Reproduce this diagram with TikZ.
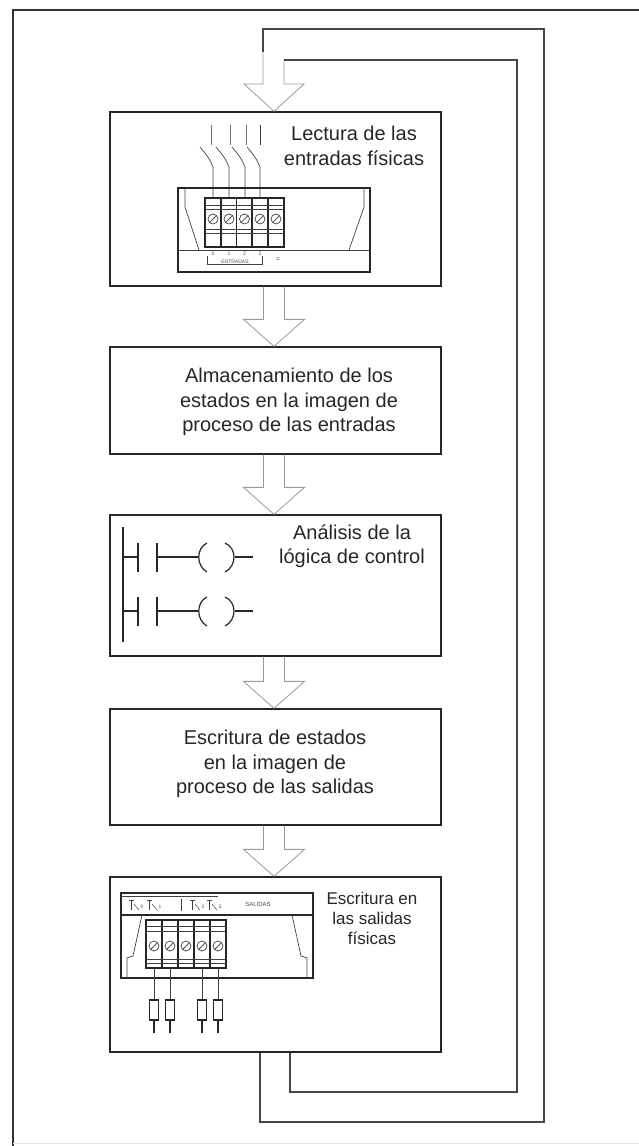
\documentclass[tikz,border=0pt]{standalone}
\usepackage{fontspec}
\setmainfont{Liberation Sans}
\usetikzlibrary{calc}
\begin{document}
\begin{tikzpicture}[x=1pt,y=-1pt,
  stagebox/.style={draw=black!85,line width=1.3pt,minimum width=331pt,inner sep=0pt},
  blockarrow/.style={draw=black!40,line width=0.8pt,line join=miter},
  feedback/.style={draw=black!72,line width=1.5pt},
  caption/.style={font=\fontsize{20}{24.5}\selectfont,align=center,text=black!85,inner sep=0pt},
  smallcaption/.style={font=\fontsize{17}{20}\selectfont,align=center,text=black!85,inner sep=0pt},
  part/.style={draw=black!85,line width=1.2pt},
  thinpart/.style={draw=black!75,line width=0.7pt},
  tinytext/.style={font=\fontsize{5}{5}\selectfont,text=black!70,inner sep=0pt}]

\useasboundingbox (0,0) rectangle (639,1146);

% outer frame
\draw[black!80,line width=2.5pt] (13,1146) -- (13,10) -- (639,10);
\draw[black!10,line width=0.8pt] (13,1143) -- (639,1143);

% the five stages of the scan cycle
\node[stagebox,minimum height=174pt] (b1) at (275.5,199) {};
\node[stagebox,minimum height=107pt] (b2) at (275.5,400.5) {};
\node[stagebox,minimum height=141pt] (b3) at (275.5,585.5) {};
\node[stagebox,minimum height=116pt] (b4) at (275.5,767) {};
\node[stagebox,minimum height=175pt] (b5) at (275.5,964.5) {};

\node[caption] (t1) at (354,146) {Lectura de las\\entradas físicas};
\node[caption] (t2) at (289,402) {Almacenamiento de los\\estados en la imagen de\\proceso de las entradas};
\node[caption] (t3) at (352,546) {Análisis de la\\lógica de control};
\node[caption] (t4) at (275,764) {Escritura de estados\\en la imagen de\\proceso de las salidas};
\node[smallcaption] (t5) at (372,918) {Escritura en\\las salidas\\físicas};

% hollow block arrows between stages
\newcommand\stagearrow[2]{%
  \draw[blockarrow] ($(#1.south)+(-12,0)$) -- ($(#2.north)+(-12,-27)$)
    -- ($(#2.north)+(-32,-27)$) -- ($(#2.north)+(-1.5,0)$)
    -- ($(#2.north)+(29,-27)$) -- ($(#2.north)+(9,-27)$)
    -- ($(#1.south)+(9,0)$);}
\stagearrow{b1}{b2}
\stagearrow{b2}{b3}
\stagearrow{b3}{b4}
\stagearrow{b4}{b5}

% feedback loop back to the first stage
\coordinate (outerend) at (263,52);
\coordinate (innerend) at (284,60);
\draw[blockarrow] (outerend) -- (263,84) -- (244,84) -- ($(b1.north)+(-1.5,0)$)
  -- (304,84) -- (284,84) -- (innerend);
\draw[feedback] ($(b5.south)+(-15.5,0)$) -- (260,1122) -- (544,1122)
  -- (544,29) -- (263,29) -- (outerend);
\draw[feedback] ($(b5.south)+(14.5,0)$) -- (290,1092) -- (517,1092)
  -- (517,60) -- (284,60) -- (innerend);

% ---- input module with switches ----
\foreach \x in {211,230,246,260} {
  \draw[thinpart,black!55] (\x,125) -- (\x,145);
}
\draw[thinpart] (260,125) -- (260,145);
\foreach \x in {213,229,245,260} {
  \draw[thinpart] (\x-13,147) .. controls (\x-4,158) .. (\x,167) -- (\x,198);
}
\draw[part] (178,188) rectangle (370,272);
\draw[thinpart] (178,250) -- (370,250);
\draw[thinpart] (185,188) -- (185,207) -- (199,250);
\draw[thinpart] (364,188) -- (364,207) -- (349,250);
\draw[part,fill=white] (205,198) rectangle (284,247);
\foreach \x in {221,236.5,252,268} { \draw[part] (\x,198) -- (\x,247); }
\foreach \y in {205,209.5,229,233.5} { \draw[thinpart] (205,\y) -- (284,\y); }
\foreach \x in {213,229,244.5,260,276} {
  \draw[thinpart] (\x,219) circle (5);
  \draw[thinpart] (\x-3.5,222.5) -- (\x+3.5,215.5);
}
\foreach \x/\n in {213/0,229/1,244.5/2,260/3} {
  \node[tinytext] at (\x,254) {\n};
}
\draw[thinpart,line width=0.5pt] (207,256) -- (207,264) -- (262,264) -- (262,256);
\node[tinytext] at (235,262) {ENTRADAS};
\node[tinytext,font=\fontsize{7}{7}\selectfont] at (278,260) {=};

% ---- ladder logic ----
\draw[part,line width=1.8pt] (123,527) -- (123,642);
\foreach \y in {557,611} {
  \draw[part] (123,\y) -- (138,\y);
  \draw[part] (138,\y-14) -- (138,\y+15);
  \draw[part] (157,\y-14) -- (157,\y+15);
  \draw[part] (157,\y) -- (198,\y);
  \draw[part] (207,\y-14) .. controls (196,\y-9) and (196,\y+9) .. (207,\y+15);
  \draw[part] (225,\y-14) .. controls (237,\y-9) and (237,\y+9) .. (225,\y+15);
  \draw[part] (235,\y) -- (253,\y);
}

% ---- output module with loads ----
\draw[part] (121,893) rectangle (313,978);
\draw[thinpart] (121,896.5) -- (218,896.5);
\draw[part] (121,915) -- (313,915);
\draw[thinpart] (292,915) -- (301,956) -- (307,958) -- (307,978);
\draw[thinpart] (142,915) -- (133,956) -- (127,958) -- (127,978);
\foreach \x/\n in {131/0,149/1,192/2,209/3} {
  \draw[thinpart,line width=0.5pt] (\x-2,900) -- (\x+3,900);
  \draw[thinpart,line width=0.5pt] (\x,900) -- (\x,910);
  \draw[thinpart,line width=0.5pt] (\x+3,904) -- (\x+8,910);
  \node[tinytext] at (\x+11,907) {\n};
}
\draw[thinpart,line width=0.5pt] (181,899) -- (181,911);
\node[tinytext,font=\fontsize{6}{6}\selectfont] at (258,904) {SALIDAS};
\draw[part,fill=white] (146,920) rectangle (226,968);
\foreach \x in {162,178,194,210} { \draw[part] (\x,920) -- (\x,968); }
\foreach \y in {926,931,959,963} { \draw[thinpart] (146,\y) -- (226,\y); }
\foreach \x in {154,170,186,202,218} {
  \draw[thinpart] (\x,946) circle (5);
  \draw[thinpart] (\x-3.5,949.5) -- (\x+3.5,942.5);
}
\foreach \x in {154,170,202,218} {
  \draw[thinpart] (\x,968) -- (\x,1000);
  \draw[part] (\x-4.5,1000) rectangle (\x+4.5,1020);
  \draw[part] (\x,1020) -- (\x,1033);
}
\end{tikzpicture}
\end{document}
